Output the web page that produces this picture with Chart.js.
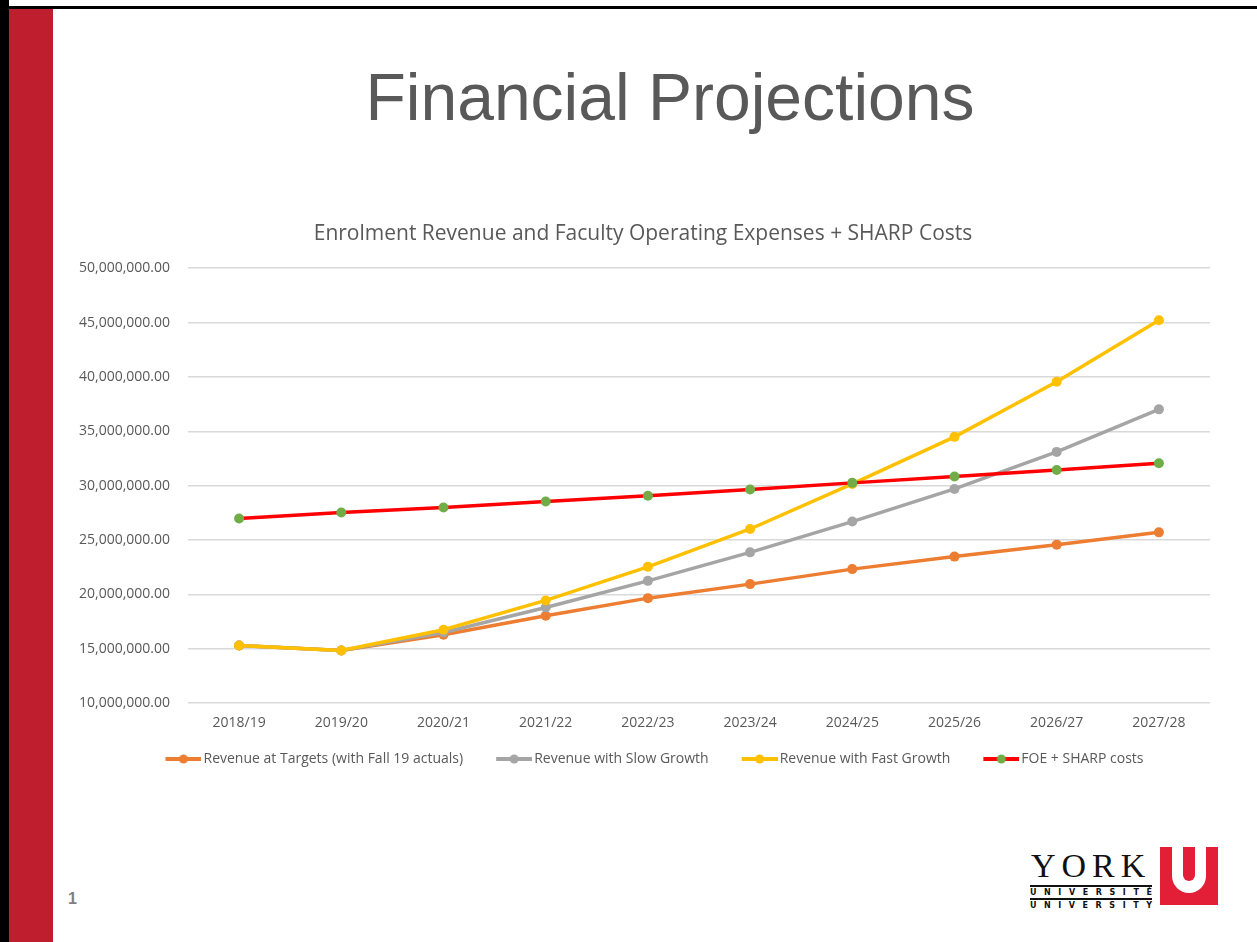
<!DOCTYPE html>
<html>
<head>
<meta charset="utf-8">
<script src="https://cdn.jsdelivr.net/npm/chart.js@4"></script>
<style>
  html, body { margin: 0; padding: 0; background: #fff; }
  body { width: 1257px; height: 942px; position: relative; overflow: hidden; }
  #leftBorder { position: absolute; left: 0; top: 0; width: 9px; height: 942px; background: #000; }
  #topBorder { position: absolute; left: 0; top: 6px; width: 1257px; height: 3px; background: #000; }
  #redBar { position: absolute; left: 9px; top: 9px; width: 44px; height: 933px; background: #be1e2d; }
  #slideTitle {
    position: absolute; left: 60px; top: 59px; width: 1220px; text-align: center;
    font-family: "Liberation Sans", Arial, sans-serif; font-size: 66px; color: #595959;
  }
  #chartBox { position: absolute; left: 60px; top: 215px; width: 1170px; height: 563px; }
  #pageNum {
    position: absolute; left: 68px; top: 890px;
    font-family: "Liberation Sans", Arial, sans-serif; font-size: 16px; font-weight: bold; color: #7f7f7f;
  }
  #logo { position: absolute; left: 1028px; top: 845px; width: 200px; height: 64px; }
  #york {
    position: absolute; left: 3px; top: 2px; font-family: "Liberation Serif", "DejaVu Serif", serif;
    font-size: 34px; letter-spacing: 6px; color: #111; line-height: 38px;
  }
  .uni {
    position: absolute; left: 2px; width: 122px; display: flex; justify-content: space-between;
    font-family: "DejaVu Sans", sans-serif; font-weight: bold; font-size: 8px; color: #111; line-height: 10px;
  }
  #uni1 { top: 40px; border-top: 2px solid #111; padding-top: 1px; }
  #uni2 { top: 53px; border-top: 2px solid #111; padding-top: 1px; }
  #uBox { position: absolute; left: 132px; top: 2px; width: 58px; height: 58px; background: #e21f36; overflow: hidden; }
  #uWhite { position: absolute; left: 12px; top: 0; width: 34px; height: 46px; background: #fff; border-radius: 0 0 17px 17px; }
  #uInner { position: absolute; left: 11px; top: 0; width: 12px; height: 34px; background: #e21f36; border-radius: 0 0 6px 6px; }
</style>
</head>
<body>
<div id="leftBorder"></div>
<div id="topBorder"></div>
<div id="redBar"></div>
<div id="slideTitle">Financial Projections</div>
<div id="chartBox"><canvas id="finChart"></canvas></div>
<div id="pageNum">1</div>
<div id="logo">
  <div id="york">YORK</div>
  <div class="uni" id="uni1"><span>U</span><span>N</span><span>I</span><span>V</span><span>E</span><span>R</span><span>S</span><span>I</span><span>T</span><span>É</span></div>
  <div class="uni" id="uni2"><span>U</span><span>N</span><span>I</span><span>V</span><span>E</span><span>R</span><span>S</span><span>I</span><span>T</span><span>Y</span></div>
  <div id="uBox"><div id="uWhite"><div id="uInner"></div></div></div>
</div>

<script>
const years = ["2018/19", "2019/20", "2020/21", "2021/22", "2022/23", "2023/24", "2024/25", "2025/26", "2026/27", "2027/28"];

const revenueTargets = [15300000, 14840000, 16290000, 18040000, 19660000, 20950000, 22330000, 23480000, 24580000, 25710000];
const revenueSlow = [15300000, 14840000, 16500000, 18800000, 21250000, 23870000, 26700000, 29700000, 33110000, 37020000];
const revenueFast = [15300000, 14840000, 16750000, 19450000, 22540000, 26020000, 30160000, 34490000, 39560000, 45220000];
const foeSharp = [26980000, 27530000, 27990000, 28540000, 29080000, 29650000, 30260000, 30850000, 31450000, 32070000];

const yTicks = [10000000, 15000000, 20000000, 25000000, 30000000, 35000000, 40000000, 45000000, 50000000];

const textColor = "#595959";

// legend marker: short line with a dot, pushed to the right so the text sits close
// (the image is 10px wider than the legend box, the empty left part is spacing)
function makeMarker(lineColor, dotColor) {
  const c = document.createElement("canvas");
  c.width = 64;
  c.height = 12;
  const g = c.getContext("2d");
  g.strokeStyle = lineColor;
  g.lineWidth = 4;
  g.beginPath();
  g.moveTo(28, 6);
  g.lineTo(64, 6);
  g.stroke();
  g.fillStyle = dotColor;
  g.beginPath();
  g.arc(46, 6, 4.5, 0, Math.PI * 2);
  g.fill();
  return c;
}

function series(label, data, lineColor, dotColor, order) {
  return {
    label,
    data,
    borderColor: lineColor,
    backgroundColor: dotColor,
    pointBackgroundColor: dotColor,
    pointBorderColor: dotColor,
    pointRadius: 5,
    pointBorderWidth: 0,
    borderWidth: 3.5,
    tension: 0,
    order,
    marker: makeMarker(lineColor, dotColor)
  };
}

const ctx = document.getElementById("finChart").getContext("2d");
new Chart(ctx, {
  type: "line",
  data: {
    labels: years,
    datasets: [
      series("Revenue at Targets (with Fall 19 actuals)", revenueTargets, "#ed7d31", "#ed7d31", 3),
      series("Revenue with Slow Growth", revenueSlow, "#a5a5a5", "#a5a5a5", 2),
      series("Revenue with Fast Growth", revenueFast, "#ffc000", "#ffc000", 1),
      series("FOE + SHARP costs", foeSharp, "#ff0000", "#70ad47", 0)
    ]
  },
  options: {
    responsive: true,
    maintainAspectRatio: false,
    animation: false,
    layout: { padding: { left: 16, right: 20, top: 0, bottom: 2 } },
    scales: {
      x: {
        offset: true,
        grid: { display: false, drawTicks: false },
        border: { display: false },
        ticks: { color: textColor, font: { family: "Open Sans", size: 14 }, padding: 11, maxRotation: 0 }
      },
      y: {
        min: yTicks[0],
        max: yTicks[yTicks.length - 1],
        afterBuildTicks: scale => { scale.ticks = yTicks.map(v => ({ value: v })); },
        afterFit: scale => { scale.width = 112; },
        grid: { color: "#d9d9d9", lineWidth: 1.5, drawTicks: false },
        border: { display: false },
        ticks: {
          color: textColor,
          font: { family: "Open Sans", size: 14 },
          padding: 18,
          callback: v => v.toLocaleString("en-US", { minimumFractionDigits: 2, maximumFractionDigits: 2 })
        }
      }
    },
    plugins: {
      title: {
        display: true,
        text: "Enrolment Revenue and Faculty Operating Expenses + SHARP Costs",
        color: textColor,
        font: { family: "Open Sans", size: 21, weight: "normal" },
        padding: { top: 6, bottom: 22 }
      },
      legend: {
        position: "bottom",
        labels: {
          color: textColor,
          font: { family: "Open Sans", size: 14 },
          usePointStyle: true,
          pointStyleWidth: 54,
          padding: 10,
          sort: (a, b) => a.datasetIndex - b.datasetIndex,
          generateLabels: chart => chart.data.datasets.map((ds, i) => ({
            text: ds.label,
            fontColor: textColor,
            pointStyle: ds.marker,
            datasetIndex: i,
            hidden: false,
            lineWidth: 0
          }))
        }
      },
      tooltip: { enabled: false }
    }
  }
});
</script>
</body>
</html>
